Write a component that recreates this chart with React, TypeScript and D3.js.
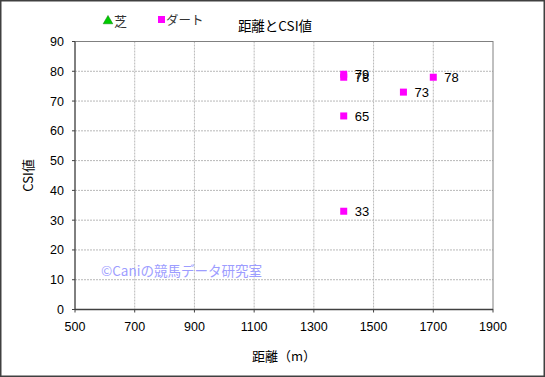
import React from "react";
import * as d3 from "d3";

const xTicks = [500, 700, 900, 1100, 1300, 1500, 1700, 1900];
const yTicks = [0, 10, 20, 30, 40, 50, 60, 70, 80, 90];
const turfDistance: number[] = [];
const turfCSI: number[] = [];
const dirtDistance = [1400, 1400, 1400, 1400, 1600, 1700];
const dirtCSI = [79, 78, 65, 33, 73, 78];
const dirtLabels = ["79", "78", "65", "33", "73", "78"];

const W = 545, H = 377;
const M = { left: 75, right: 493, top: 41.5, bottom: 309.5 };
const FONT = "'Liberation Sans', 'Noto Sans CJK JP', sans-serif";
const JFONT = "'Noto Sans CJK JP', sans-serif";

export default function App() {
  const x = d3.scaleLinear().domain([500, 1900]).range([M.left, M.right]);
  const y = d3.scaleLinear().domain([0, 90]).range([M.bottom, M.top]);
  const tri = d3.symbol().type(d3.symbolTriangle).size(40)();
  return (
    <svg width={W} height={H} style={{ position: "absolute", left: 0, top: 0, background: "#fff" }}>
      <rect x={0.75} y={0.75} width={W - 1.5} height={H - 1.5} fill="#fff" stroke="#404040" strokeWidth={1.5} />
      {xTicks.slice(1, -1).map((t) => (
        <line key={"gx" + t} x1={x(t)} x2={x(t)} y1={M.top} y2={M.bottom} stroke="#b8b8b8" strokeDasharray="2,1" />
      ))}
      {yTicks.slice(1, -1).map((t) => (
        <line key={"gy" + t} x1={M.left} x2={M.right} y1={y(t)} y2={y(t)} stroke="#b8b8b8" strokeDasharray="2,1" />
      ))}
      <rect x={M.left} y={M.top} width={M.right - M.left} height={M.bottom - M.top} fill="none" stroke="#808080" strokeWidth={1} />
      <line x1={M.left} x2={M.right} y1={M.bottom} y2={M.bottom} stroke="#404040" strokeWidth={1.5} />
      <line x1={M.left} x2={M.left} y1={M.top} y2={M.bottom} stroke="#404040" strokeWidth={1} />
      {xTicks.map((t) => (
        <g key={"xt" + t}>
          <line x1={x(t)} x2={x(t)} y1={M.bottom} y2={M.bottom + 3} stroke="#404040" />
          <text x={x(t)} y={M.bottom + 21.5} textAnchor="middle" fontFamily={FONT} fontSize={12.5} fill="#000">{t}</text>
        </g>
      ))}
      {yTicks.map((t) => (
        <g key={"yt" + t}>
          <line x1={M.left - 3} x2={M.left} y1={y(t)} y2={y(t)} stroke="#404040" />
          <text x={M.left - 11} y={y(t) + 4.5} textAnchor="end" fontFamily={FONT} fontSize={12.5} fill="#000">{t}</text>
        </g>
      ))}
      <text x={101} y={276} fontFamily={JFONT} fontSize={13.5} fill="#9d9dff">©Caniの競馬データ研究室</text>
      {turfDistance.map((d, i) => (
        <path key={"t" + i} d={tri!} transform={`translate(${x(d)},${y(turfCSI[i])})`} fill="#00cc00" stroke="#008000" />
      ))}
      {dirtDistance.map((d, i) => (
        <g key={"d" + i}>
          <rect x={x(d) - 3.5} y={y(dirtCSI[i]) - 3.5} width={7} height={7} fill="#ff00ff" />
          <text x={x(d) + 11} y={y(dirtCSI[i]) + 5} fontFamily={FONT} fontSize={13} fill="#000">{dirtLabels[i]}</text>
        </g>
      ))}
      <path d={tri!} transform="translate(108,21)" fill="#00cc00" stroke="#008000" strokeWidth={0.5} />
      <text x={114} y={26} fontFamily={JFONT} fontSize={13} fill="#333">芝</text>
      <rect x={158} y={16} width={7} height={7} fill="#ff00ff" />
      <text x={166} y={25} fontFamily={JFONT} fontSize={12.5} fill="#333">ダート</text>
      <text x={275} y={31} textAnchor="middle" fontFamily={JFONT} fontSize={13.5} fill="#000">距離とCSI値</text>
      <text x={284} y={361} textAnchor="middle" fontFamily={JFONT} fontSize={13} fill="#000">距離（m）</text>
      <text transform={`translate(33,${(M.top + M.bottom) / 2}) rotate(-90)`} textAnchor="middle" fontFamily={JFONT} fontSize={13} fill="#000">CSI値</text>
    </svg>
  );
}
